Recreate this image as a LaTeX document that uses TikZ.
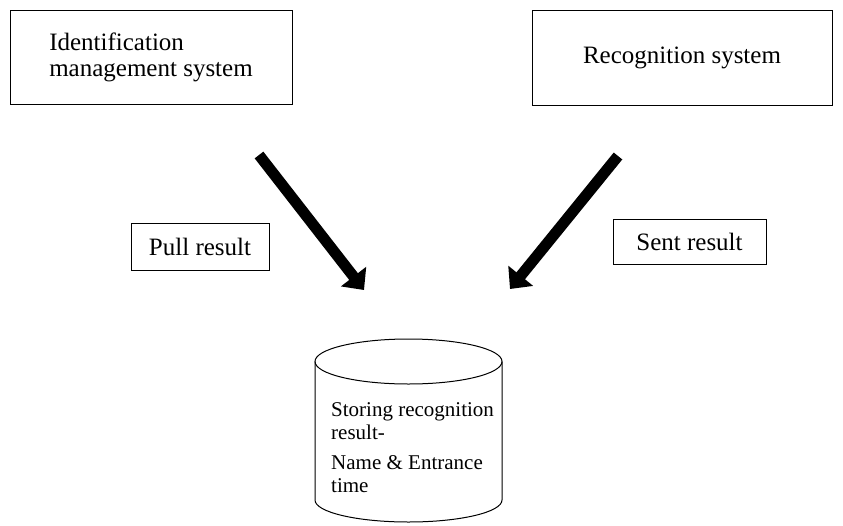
\documentclass[tikz,border=0pt]{standalone}
\usepackage{fontspec}
\setmainfont{Liberation Serif}
\usetikzlibrary{arrows.meta}

\begin{document}
\begin{tikzpicture}[x=1pt, y=-1pt,
		sysbox/.style={draw, rectangle, line width=1pt, font=\fontsize{25}{26}\selectfont},
		bigarrow/.style={line width=11pt, -{Triangle[length=17pt, width=31pt]}}]
			\useasboundingbox (0, 0) rectangle (843, 525);
			\node[sysbox, minimum width=282, minimum height=94, align=left] (IMS)at(151, 57) {Identification\\management system};
			\node[sysbox, minimum width=300, minimum height=95] (RS)at(682, 57.5) {Recognition system};
			\node[sysbox, minimum width=138, minimum height=47] (PR)at(200, 246.5) {Pull result};
			\node[sysbox, minimum width=153, minimum height=45] (SR)at(689.5, 241.5) {Sent result};
			\draw[line width=1pt] (315, 361.5) -- (315, 500) arc[start angle=180, end angle=0, x radius=93.5, y radius=22] -- (502, 361.5);
			\draw[line width=1pt] (408.5, 361.5) ellipse[x radius=93.5, y radius=22.5];
			\node[anchor=north west, align=left, inner sep=0, font=\fontsize{21}{23.5}\selectfont] (DB)at(331, 402) {Storing recognition\\result-\\[6pt]Name \& Entrance\\time};
			\coordinate (PRtail)at(259, 155);
			\coordinate (PRhead)at(364, 290);
			\coordinate (SRtail)at(618, 156);
			\coordinate (SRhead)at(510, 289);
			\draw[bigarrow] (PRtail) -- (PRhead);
			\draw[bigarrow] (SRtail) -- (SRhead);
		\end{tikzpicture}
\end{document}
